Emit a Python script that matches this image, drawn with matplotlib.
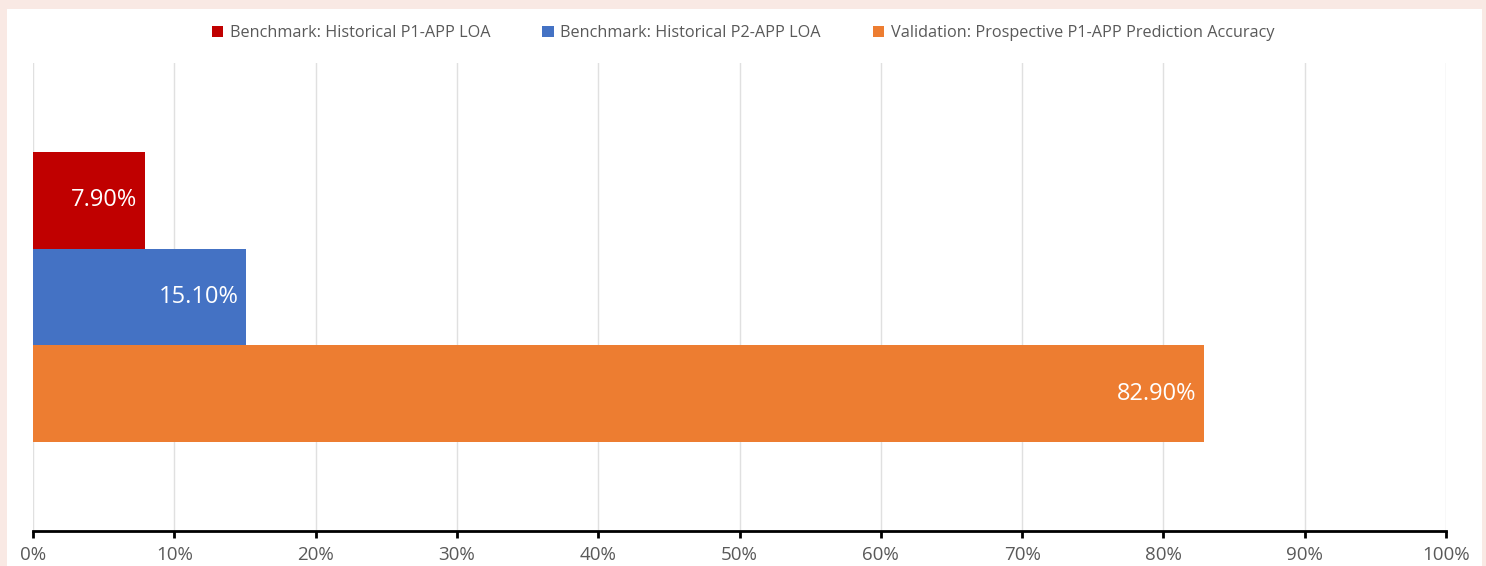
import matplotlib
matplotlib.use("Agg")
import matplotlib.pyplot as plt
from matplotlib.patches import Rectangle
from matplotlib.ticker import FuncFormatter

series = ["Benchmark: Historical P1-APP LOA",
          "Benchmark: Historical P2-APP LOA",
          "Validation: Prospective P1-APP Prediction Accuracy"]
values = [7.9, 15.1, 82.9]
colors = ["#C00000", "#4472C4", "#ED7D31"]
xticks = [0, 10, 20, 30, 40, 50, 60, 70, 80, 90, 100]

plt.rcParams['font.family'] = ['Open Sans', 'DejaVu Sans']

W, H = 1486, 566
fig = plt.figure(figsize=(W/100, H/100), dpi=100)
fig.patch.set_facecolor("#F9E9E4")
fig.patches.append(Rectangle((7/W, 0), (1482-7)/W, (H-9)/H, transform=fig.transFigure,
                             facecolor="white", edgecolor="none", zorder=-5))

ax = fig.add_axes([33/W, 1-531/H, (1446-33)/W, (531-63)/H])
ax.set_zorder(2)
ax.set_facecolor("none")
bh = 0.62/3
n = len(values)
for i, (s, v, c) in enumerate(zip(series, values, colors)):
    y = (n-1)/2*bh - i*bh
    ax.barh(y, v, height=bh, color=c, label=s, zorder=3)
    ax.text(v - 0.55, y, f"{v:.2f}%", ha="right", va="center", color="white",
            fontsize=17, zorder=4)

ax.set_xlim(0, 100)
ax.set_ylim(-0.5, 0.5)
ax.set_xticks(xticks)
ax.xaxis.set_major_formatter(FuncFormatter(lambda x, p: f"{int(x)}%"))
ax.set_yticks([])
ax.grid(axis="x", color="#E0E0E0", linewidth=1, zorder=0)
for sp in ["top", "right", "left"]:
    ax.spines[sp].set_visible(False)
ax.spines["bottom"].set_linewidth(2)
ax.spines["bottom"].set_color("black")
ax.tick_params(axis="x", direction="out", length=5, width=2, color="black",
               labelsize=13.5, labelcolor="#595959", pad=6)

leg = fig.legend(loc="center", bbox_to_anchor=(0.5, 1-33/H), ncol=3, frameon=False,
                 fontsize=11.7, handlelength=0.7, handleheight=0.7, handletextpad=0.4,
                 columnspacing=3.2)
for t in leg.get_texts():
    t.set_color("#595959")

fig.savefig("out.png", dpi=100, facecolor=fig.get_facecolor())
